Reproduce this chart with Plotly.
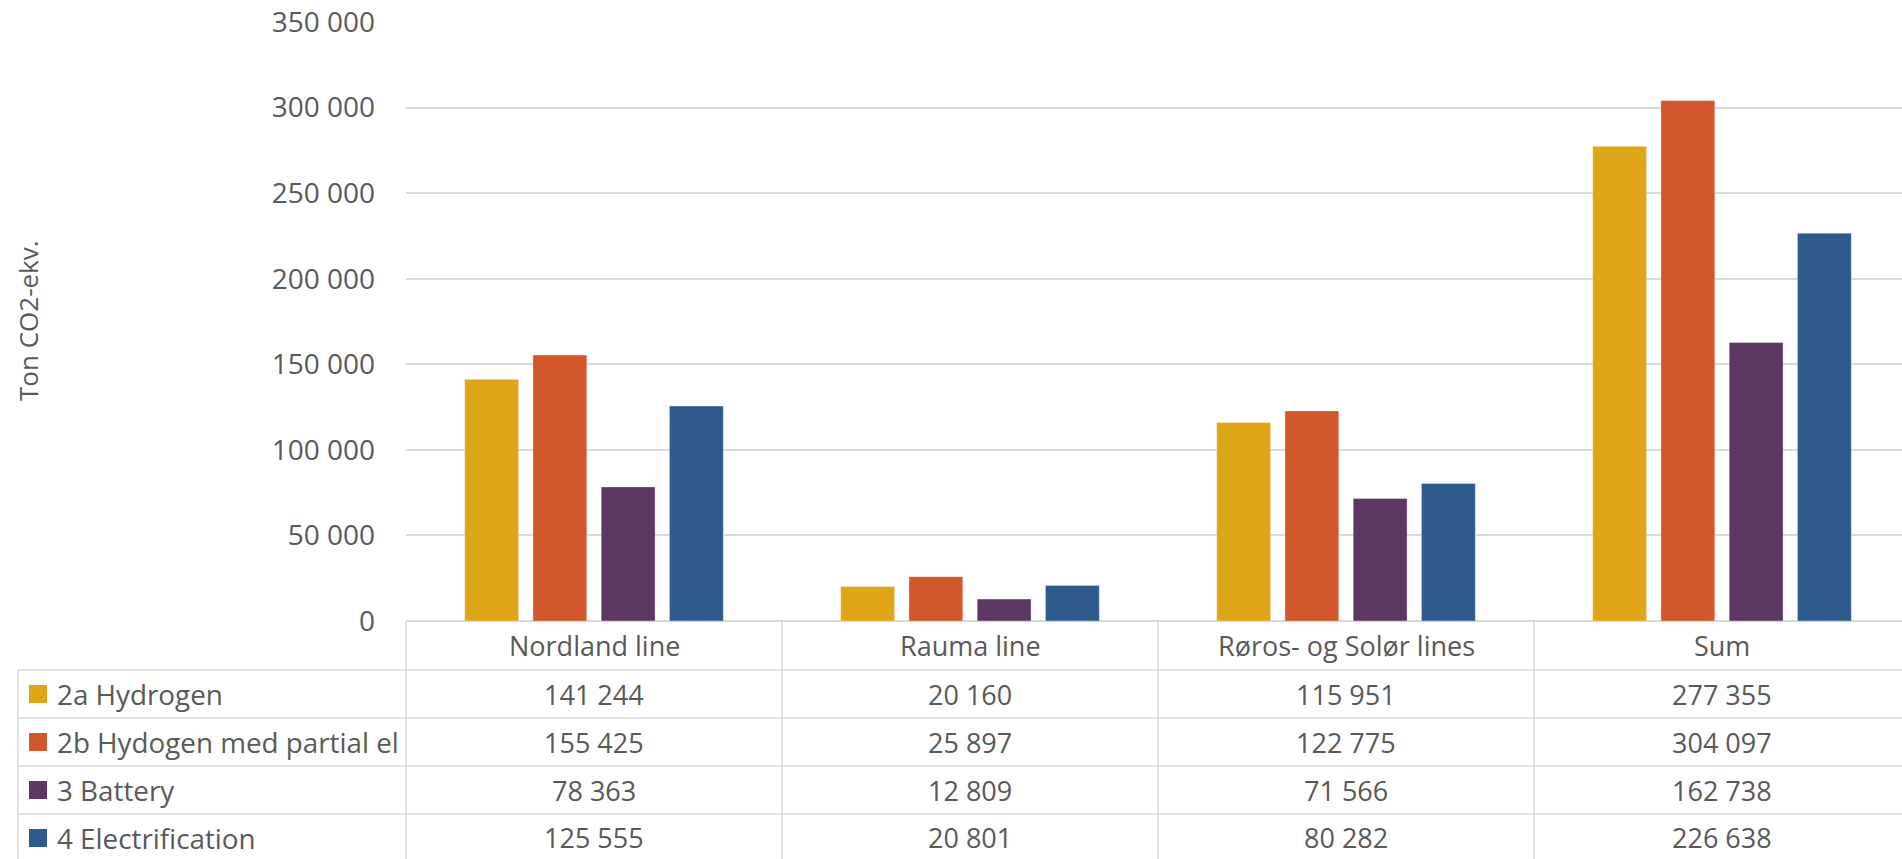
import plotly.graph_objects as go

# ---- data ----
categories = ["Nordland line", "Rauma line", "Røros- og Solør lines", "Sum"]
series_names = ["2a Hydrogen", "2b Hydogen med partial el", "3 Battery", "4 Electrification"]
hydrogen = [141244, 20160, 115951, 277355]
hydrogen_partial_el = [155425, 25897, 122775, 304097]
battery = [78363, 12809, 71566, 162738]
electrification = [125555, 20801, 80282, 226638]
series_values = [hydrogen, hydrogen_partial_el, battery, electrification]
series_colors = ["#DFA717", "#D2572B", "#5E3865", "#2D5A8B"]

y_ticks = [0, 50000, 100000, 150000, 200000, 250000, 300000, 350000]
y_tick_labels = ["0", "50 000", "100 000", "150 000", "200 000", "250 000", "300 000", "350 000"]
y_title = "Ton CO2-ekv."

# ---- layout constants (pixels) ----
W, H = 1902, 859
PLOT_L, PLOT_T, PLOT_B = 406, 22, 621
PLOT_W = W - PLOT_L
PLOT_H = PLOT_B - PLOT_T
COL_W = 376
X0 = -0.5
X1 = X0 + PLOT_W / COL_W
ROW_H = 48
HEADER_BOTTOM = 670
TABLE_LEFT = 18
TEXT = "#595959"
LINE = "#D9D9D9"
FONT = "Open Sans"


def px_x(p):
    return (p - PLOT_L) / PLOT_W


def px_y(p):
    return (PLOT_B - p) / PLOT_H


def data_x_to_paper(v):
    return (v - X0) / (X1 - X0)


def fmt(v):
    return f"{v:,}".replace(",", " ")


fig = go.Figure()
for name, vals, col in zip(series_names, series_values, series_colors):
    fig.add_trace(go.Bar(
        x=list(range(len(categories))), y=vals, name=name,
        marker=dict(color=col, line=dict(color="rgba(255,255,255,0.45)", width=0.8)),
    ))

shapes = []
annotations = []

# horizontal table rules
n_rows = len(series_names)
row_tops = [HEADER_BOTTOM + i * ROW_H for i in range(n_rows + 1)]
for yt in row_tops:
    shapes.append(dict(type="line", xref="paper", yref="paper",
                       x0=px_x(TABLE_LEFT), x1=1.0, y0=px_y(yt), y1=px_y(yt),
                       line=dict(color=LINE, width=1.5)))
table_bottom = row_tops[-1]

# vertical table rules: left edge of legend column, then category boundaries
shapes.append(dict(type="line", xref="paper", yref="paper",
                   x0=px_x(TABLE_LEFT), x1=px_x(TABLE_LEFT),
                   y0=px_y(HEADER_BOTTOM), y1=px_y(table_bottom),
                   line=dict(color=LINE, width=1.5)))
for i in range(len(categories)):
    xb = data_x_to_paper(i - 0.5)
    shapes.append(dict(type="line", xref="paper", yref="paper",
                       x0=xb, x1=xb, y0=px_y(PLOT_B), y1=px_y(table_bottom),
                       line=dict(color=LINE, width=1.5)))

# header row: category names
for i, c in enumerate(categories):
    annotations.append(dict(text=c, x=i, xref="x", yref="paper",
                            y=px_y((PLOT_B + HEADER_BOTTOM) / 2),
                            xanchor="center", yanchor="middle", showarrow=False,
                            font=dict(family=FONT, size=27, color=TEXT)))

# series rows: legend key, name and values
for r, (name, vals, col) in enumerate(zip(series_names, series_values, series_colors)):
    yc = HEADER_BOTTOM + r * ROW_H + ROW_H / 2
    shapes.append(dict(type="rect", xref="paper", yref="paper",
                       x0=px_x(29), x1=px_x(47), y0=px_y(yc - 9), y1=px_y(yc + 9),
                       fillcolor=col, line=dict(width=0)))
    annotations.append(dict(text=name, x=px_x(55), xref="paper", yref="paper",
                            y=px_y(yc), xanchor="left", yanchor="middle", showarrow=False,
                            font=dict(family=FONT, size=27.8, color=TEXT)))
    for i, v in enumerate(vals):
        annotations.append(dict(text=fmt(v), x=i, xref="x", yref="paper",
                                y=px_y(yc), xanchor="center", yanchor="middle",
                                showarrow=False,
                                font=dict(family=FONT, size=27, color=TEXT)))

# rotated axis title
annotations.append(dict(text=y_title, x=px_x(28), y=px_y(321), xref="paper", yref="paper",
                        textangle=-90, xanchor="center", yanchor="middle", showarrow=False,
                        font=dict(family=FONT, size=26, color=TEXT)))

fig.update_layout(
    width=W, height=H,
    margin=dict(l=PLOT_L, r=0, t=PLOT_T, b=H - PLOT_B, pad=0),
    paper_bgcolor="white", plot_bgcolor="white",
    barmode="group", bargap=0.274, bargroupgap=0.21,
    showlegend=False,
    shapes=shapes, annotations=annotations,
    xaxis=dict(range=[X0, X1], showticklabels=False, showgrid=False,
               zeroline=False, showline=False, ticks=""),
    yaxis=dict(range=[0, 350000], tickvals=y_ticks, ticktext=y_tick_labels,
               showgrid=True, gridcolor=LINE, gridwidth=1.5,
               zeroline=True, zerolinecolor=LINE, zerolinewidth=1.5,
               showline=False, ticks="", ticklabelstandoff=30,
               tickfont=dict(family=FONT, size=28, color=TEXT)),
)

fig.write_html("out.html")
